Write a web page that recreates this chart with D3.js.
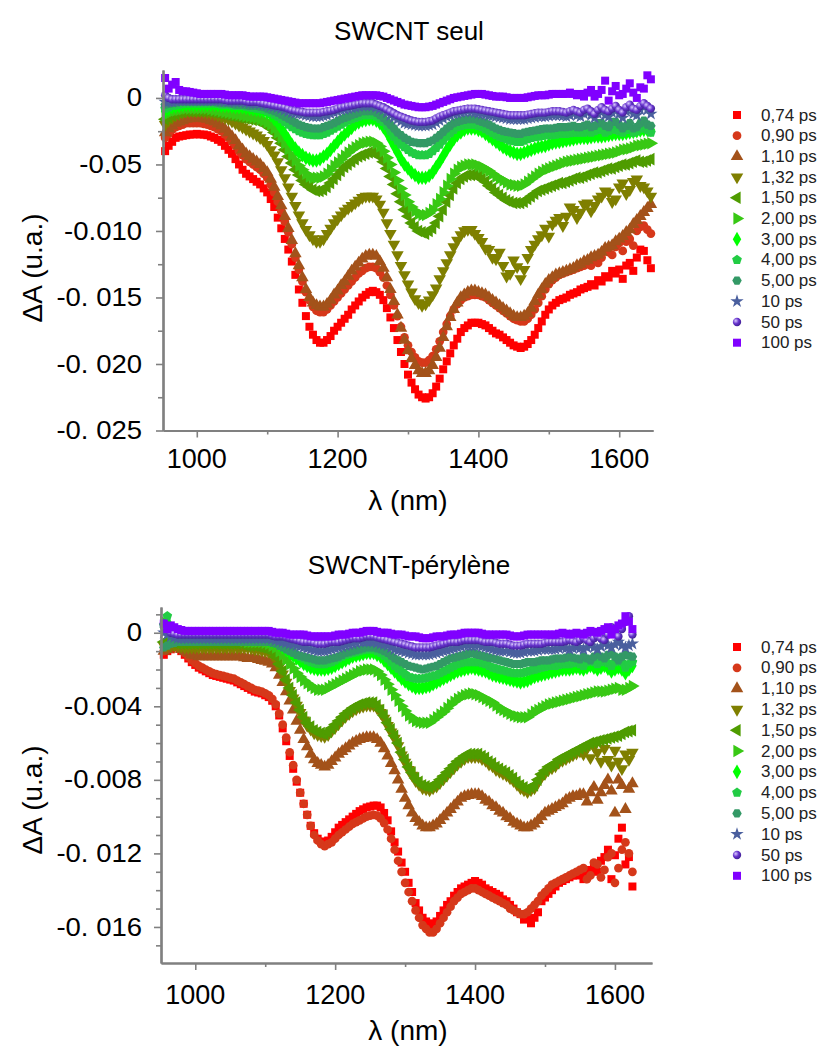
<!DOCTYPE html>
<html><head><meta charset="utf-8">
<script src="https://cdn.jsdelivr.net/npm/d3@7"></script>
<style>body{margin:0;background:#fff}svg{display:block}</style>
</head><body>
<svg id="c" width="819" height="1048"></svg>
<script>
// ---------------- DATA (ΔA values in units of 1e-3) ----------------
const seriesLabels = ["0,74 ps","0,90 ps","1,10 ps","1,32 ps","1,50 ps","2,00 ps","3,00 ps","4,00 ps","5,00 ps","10 ps","50 ps","100 ps"];

const wavelengthsTop = [955,960,965,970,975,980,985,990,995,1000,1005,1010,1015,1020,1025,1030,1035,1040,1045,1050,
1055,1060,1065,1070,1075,1080,1085,1090,1095,1100,1105,1110,1115,1120,1125,1130,1135,1140,1145,1150,
1155,1160,1165,1170,1175,1180,1185,1190,1195,1200,1205,1210,1215,1220,1225,1230,1235,1240,1245,1250,
1255,1260,1265,1270,1275,1280,1285,1290,1295,1300,1305,1310,1315,1320,1325,1330,1335,1340,1345,1350,
1355,1360,1365,1370,1375,1380,1385,1390,1395,1400,1405,1410,1415,1420,1425,1430,1435,1440,1445,1450,
1455,1460,1465,1470,1475,1480,1485,1490,1495,1500,1505,1510,1515,1520,1525,1530,1535,1540,1545,1550,
1555,1560,1565,1570,1575,1580,1585,1590,1595,1600,1605,1610,1615,1620,1625,1630,1635,1640,1645];
const wavelengthsBottom = [955,960,965,970,975,980,985,990,995,1000,1005,1010,1015,1020,1025,1030,1035,1040,1045,1050,
1055,1060,1065,1070,1075,1080,1085,1090,1095,1100,1105,1110,1115,1120,1125,1130,1135,1140,1145,1150,
1155,1160,1165,1170,1175,1180,1185,1190,1195,1200,1205,1210,1215,1220,1225,1230,1235,1240,1245,1250,
1255,1260,1265,1270,1275,1280,1285,1290,1295,1300,1305,1310,1315,1320,1325,1330,1335,1340,1345,1350,
1355,1360,1365,1370,1375,1380,1385,1390,1395,1400,1405,1410,1415,1420,1425,1430,1435,1440,1445,1450,
1455,1460,1465,1470,1475,1480,1485,1490,1495,1500,1505,1510,1515,1520,1525,1530,1535,1540,1545,1550,
1555,1560,1565,1570,1575,1580,1585,1590,1595,1600,1605,1610,1615,1620,1625];

// SWCNT seul
const top074 = [-4.0,-3.6,-3.3,-3.0,-2.9,-2.85,-2.8,-2.75,-2.75,-2.7,-2.75,-2.75,-2.8,-2.9,-3.0,-3.15,-3.3,-3.6,-3.9,-4.2,
-4.6,-5.0,-5.4,-5.7,-5.9,-6.1,-6.3,-6.5,-6.8,-7.1,-7.6,-8.2,-9.0,-9.8,-10.6,-11.4,-12.3,-13.3,-14.4,-15.4,
-16.4,-17.2,-17.8,-18.2,-18.4,-18.4,-18.2,-17.9,-17.5,-17.2,-16.9,-16.6,-16.3,-15.9,-15.6,-15.3,-15.0,-14.8,-14.6,-14.5,
-14.6,-14.8,-15.2,-15.8,-16.5,-17.3,-18.2,-19.1,-20.0,-20.8,-21.4,-21.9,-22.3,-22.5,-22.6,-22.5,-22.2,-21.7,-21.1,-20.4,
-19.8,-19.2,-18.6,-18.1,-17.6,-17.3,-17.1,-16.9,-16.9,-16.9,-17.0,-17.1,-17.3,-17.5,-17.7,-17.8,-18.0,-18.2,-18.4,-18.6,
-18.7,-18.8,-18.7,-18.5,-18.2,-17.8,-17.3,-16.8,-16.3,-15.9,-15.6,-15.4,-15.2,-15.1,-15.0,-14.8,-14.7,-14.6,-14.4,-14.3,
-14.2,-14.0,-14.1,-13.7,-13.8,-13.4,-13.5,-13.0,-13.2,-12.9,-13.6,-12.6,-12.4,-13.0,-12.0,-11.4,-11.5,-12.2,-12.8];
const top090 = [-3.0,-2.7,-2.4,-2.2,-2.1,-2.0,-1.9,-1.9,-1.9,-1.9,-1.9,-1.95,-2.0,-2.1,-2.2,-2.35,-2.5,-2.75,-3.0,-3.3,
-3.6,-4.0,-4.3,-4.6,-4.8,-5.0,-5.2,-5.4,-5.7,-6.0,-6.5,-7.1,-7.8,-8.5,-9.3,-10.1,-11.0,-12.0,-12.9,-13.8,
-14.6,-15.2,-15.7,-16.0,-16.1,-16.1,-15.9,-15.6,-15.3,-15.0,-14.7,-14.4,-14.1,-13.8,-13.5,-13.2,-13.0,-12.8,-12.7,-12.7,
-12.8,-13.1,-13.5,-14.1,-14.8,-15.6,-16.4,-17.2,-18.0,-18.6,-19.1,-19.5,-19.8,-19.9,-19.9,-19.7,-19.4,-18.9,-18.3,-17.6,
-17.0,-16.4,-15.9,-15.5,-15.2,-15.0,-14.9,-14.8,-14.8,-14.8,-14.9,-15.0,-15.2,-15.4,-15.6,-15.8,-16.0,-16.2,-16.4,-16.6,
-16.7,-16.8,-16.8,-16.6,-16.3,-15.9,-15.4,-14.9,-14.4,-14.0,-13.7,-13.5,-13.3,-13.2,-13.1,-13.0,-12.9,-12.8,-12.7,-12.6,
-12.5,-12.6,-12.3,-12.4,-12.0,-11.5,-11.6,-11.8,-11.2,-10.9,-11.5,-10.8,-10.6,-11.1,-10.0,-9.7,-9.6,-9.9,-10.2];
const top110 = [-2.6,-2.3,-2.1,-1.9,-1.8,-1.7,-1.6,-1.55,-1.5,-1.5,-1.5,-1.55,-1.6,-1.7,-1.8,-1.95,-2.1,-2.35,-2.6,-2.9,
-3.2,-3.6,-3.9,-4.2,-4.4,-4.6,-4.8,-5.0,-5.3,-5.6,-6.1,-6.7,-7.4,-8.1,-8.9,-9.8,-10.7,-11.7,-12.6,-13.5,
-14.4,-15.0,-15.4,-15.6,-15.7,-15.7,-15.5,-15.2,-14.8,-14.5,-14.1,-13.8,-13.4,-13.0,-12.7,-12.4,-12.1,-11.9,-11.8,-11.8,
-11.9,-12.3,-12.8,-13.5,-14.4,-15.3,-16.3,-17.3,-18.2,-19.0,-19.6,-20.1,-20.5,-20.7,-20.7,-20.5,-20.1,-19.5,-18.8,-18.0,
-17.2,-16.5,-15.9,-15.4,-15.0,-14.8,-14.6,-14.5,-14.5,-14.6,-14.7,-14.8,-15.0,-15.2,-15.4,-15.6,-15.8,-16.0,-16.2,-16.4,
-16.5,-16.5,-16.4,-16.2,-15.8,-15.3,-14.8,-14.4,-14.0,-13.7,-13.5,-13.3,-13.2,-13.1,-13.0,-12.9,-12.8,-12.6,-12.5,-12.3,
-12.2,-12.0,-11.9,-11.8,-11.6,-11.3,-11.2,-11.1,-10.8,-10.6,-10.4,-10.1,-9.9,-9.5,-9.2,-8.9,-8.6,-8.3,-8.0];
const top132 = [-2.0,-1.7,-1.5,-1.3,-1.2,-1.1,-1.0,-1.0,-1.0,-1.0,-1.0,-1.05,-1.1,-1.15,-1.2,-1.3,-1.4,-1.5,-1.6,-1.75,
-1.9,-2.05,-2.2,-2.35,-2.5,-2.65,-2.8,-3.0,-3.2,-3.5,-3.9,-4.3,-4.8,-5.4,-6.0,-6.7,-7.4,-8.1,-8.8,-9.4,
-9.9,-10.3,-10.6,-10.8,-10.8,-10.6,-10.2,-9.8,-9.4,-9.1,-8.8,-8.5,-8.3,-8.1,-7.9,-7.7,-7.5,-7.4,-7.4,-7.4,
-7.6,-8.0,-8.6,-9.4,-10.2,-11.0,-11.8,-12.6,-13.3,-14.0,-14.6,-15.1,-15.4,-15.6,-15.5,-15.2,-14.8,-14.3,-13.6,-13.0,
-12.4,-11.8,-11.2,-10.7,-10.3,-10.0,-9.9,-9.9,-10.2,-10.5,-10.8,-11.3,-11.4,-12.0,-12.1,-11.6,-12.6,-13.4,-13.2,-12.2,
-12.7,-13.6,-12.9,-12.0,-11.4,-11.0,-10.6,-10.3,-9.8,-10.4,-9.5,-9.2,-9.0,-9.6,-8.9,-8.2,-8.4,-9.0,-8.6,-8.0,
-7.9,-8.5,-8.1,-7.6,-7.4,-7.0,-7.1,-7.8,-7.6,-6.7,-6.4,-7.2,-6.9,-6.3,-6.1,-6.6,-6.7,-7.0,-7.4];
const top150 = [-1.6,-1.45,-1.3,-1.2,-1.1,-1.05,-1.0,-1.0,-1.0,-1.0,-1.0,-1.0,-1.0,-1.05,-1.1,-1.15,-1.2,-1.25,-1.3,-1.35,
-1.4,-1.45,-1.5,-1.55,-1.6,-1.65,-1.7,-1.8,-1.9,-2.1,-2.3,-2.6,-3.0,-3.4,-3.9,-4.4,-4.9,-5.4,-5.8,-6.2,
-6.5,-6.7,-6.9,-7.0,-7.0,-6.9,-6.7,-6.4,-6.1,-5.8,-5.5,-5.2,-5.0,-4.8,-4.6,-4.4,-4.3,-4.2,-4.1,-4.1,
-4.2,-4.4,-4.8,-5.3,-5.9,-6.5,-7.2,-7.8,-8.4,-8.9,-9.4,-9.7,-10.0,-10.1,-10.2,-10.0,-9.8,-9.4,-8.9,-8.4,
-7.8,-7.3,-6.8,-6.4,-6.1,-5.9,-5.8,-5.8,-5.8,-5.9,-6.1,-6.3,-6.6,-6.8,-7.1,-7.3,-7.5,-7.7,-7.8,-7.9,
-7.9,-7.9,-7.8,-7.6,-7.4,-7.2,-7.0,-6.9,-6.8,-6.7,-6.6,-6.5,-6.4,-6.4,-6.3,-6.2,-6.1,-6.0,-6.0,-5.9,
-5.8,-5.7,-5.6,-5.6,-5.5,-5.4,-5.3,-5.3,-5.2,-5.1,-5.0,-5.0,-4.9,-4.8,-4.7,-4.8,-4.8,-4.7,-4.6];
const top200 = [-1.3,-1.15,-1.0,-0.95,-0.9,-0.85,-0.8,-0.8,-0.8,-0.8,-0.8,-0.8,-0.8,-0.85,-0.9,-0.95,-1.0,-1.05,-1.1,-1.15,
-1.2,-1.25,-1.3,-1.35,-1.4,-1.45,-1.5,-1.6,-1.7,-1.85,-2.0,-2.3,-2.6,-3.0,-3.4,-3.85,-4.3,-4.7,-5.1,-5.4,
-5.7,-5.9,-6.0,-6.0,-6.0,-5.9,-5.7,-5.4,-5.1,-4.85,-4.6,-4.35,-4.1,-3.9,-3.7,-3.55,-3.4,-3.35,-3.3,-3.3,
-3.4,-3.65,-4.0,-4.5,-5.0,-5.6,-6.2,-6.8,-7.3,-7.8,-8.2,-8.5,-8.7,-8.8,-8.8,-8.65,-8.4,-8.0,-7.6,-7.1,
-6.6,-6.1,-5.7,-5.4,-5.2,-5.1,-5.0,-5.0,-5.0,-5.1,-5.2,-5.35,-5.5,-5.7,-5.9,-6.05,-6.2,-6.35,-6.5,-6.55,
-6.6,-6.6,-6.5,-6.3,-6.1,-5.9,-5.7,-5.55,-5.4,-5.3,-5.2,-5.1,-5.0,-4.9,-4.8,-4.75,-4.7,-4.65,-4.6,-4.55,
-4.5,-4.45,-4.4,-4.35,-4.3,-4.25,-4.2,-4.15,-4.1,-4.0,-3.9,-3.85,-3.8,-3.7,-3.6,-3.55,-3.5,-3.45,-3.4];
const top300 = [-1.0,-0.85,-0.7,-0.65,-0.6,-0.55,-0.5,-0.5,-0.5,-0.5,-0.5,-0.5,-0.5,-0.5,-0.5,-0.55,-0.6,-0.6,-0.6,-0.65,
-0.7,-0.7,-0.7,-0.75,-0.8,-0.85,-0.9,-0.95,-1.0,-1.1,-1.3,-1.6,-1.9,-2.3,-2.7,-3.1,-3.5,-3.8,-4.1,-4.3,
-4.5,-4.6,-4.7,-4.7,-4.6,-4.4,-4.2,-3.9,-3.6,-3.3,-3.0,-2.75,-2.5,-2.25,-2.0,-1.85,-1.7,-1.65,-1.6,-1.6,
-1.7,-1.9,-2.2,-2.6,-3.1,-3.6,-4.1,-4.6,-5.0,-5.3,-5.6,-5.8,-6.0,-6.0,-6.0,-5.85,-5.6,-5.2,-4.8,-4.35,
-3.9,-3.5,-3.1,-2.8,-2.6,-2.4,-2.3,-2.3,-2.3,-2.4,-2.5,-2.7,-2.9,-3.1,-3.3,-3.5,-3.7,-3.85,-4.0,-4.1,
-4.2,-4.2,-4.1,-4.0,-3.9,-3.8,-3.7,-3.65,-3.6,-3.5,-3.4,-3.35,-3.3,-3.25,-3.2,-3.15,-3.1,-3.05,-3.0,-3.0,
-3.0,-2.95,-2.9,-2.9,-2.9,-2.85,-2.8,-2.75,-2.7,-2.7,-2.7,-2.65,-2.6,-2.55,-2.5,-2.45,-2.4,-2.4,-2.4];
const top400 = [-0.8,-0.7,-0.6,-0.55,-0.5,-0.45,-0.4,-0.4,-0.4,-0.4,-0.4,-0.4,-0.4,-0.4,-0.4,-0.45,-0.5,-0.5,-0.5,-0.55,
-0.6,-0.6,-0.6,-0.65,-0.7,-0.75,-0.8,-0.85,-0.9,-1.0,-1.1,-1.25,-1.4,-1.6,-1.8,-2.0,-2.2,-2.35,-2.5,-2.6,
-2.7,-2.75,-2.8,-2.8,-2.8,-2.7,-2.6,-2.45,-2.3,-2.15,-2.0,-1.85,-1.7,-1.6,-1.5,-1.4,-1.3,-1.3,-1.3,-1.3,
-1.4,-1.6,-1.8,-2.1,-2.5,-2.9,-3.2,-3.5,-3.7,-3.9,-4.1,-4.2,-4.3,-4.3,-4.3,-4.2,-4.0,-3.75,-3.5,-3.2,
-2.9,-2.65,-2.4,-2.2,-2.1,-2.05,-2.0,-2.0,-2.0,-2.1,-2.2,-2.35,-2.5,-2.65,-2.8,-2.9,-3.0,-3.1,-3.2,-3.25,
-3.3,-3.3,-3.2,-3.1,-3.0,-2.95,-2.9,-2.85,-2.8,-2.8,-2.8,-2.75,-2.7,-2.7,-2.7,-2.65,-2.6,-2.6,-2.6,-2.6,
-2.5,-2.6,-2.5,-2.4,-2.4,-2.6,-2.5,-2.3,-2.4,-2.5,-2.6,-2.4,-2.3,-2.6,-2.5,-2.3,-2.2,-2.4,-2.6];
const top500 = [-0.5,-0.45,-0.4,-0.35,-0.3,-0.3,-0.3,-0.3,-0.3,-0.3,-0.3,-0.3,-0.3,-0.3,-0.3,-0.35,-0.4,-0.4,-0.4,-0.45,
-0.5,-0.5,-0.5,-0.55,-0.6,-0.6,-0.6,-0.65,-0.7,-0.8,-0.9,-1.0,-1.1,-1.25,-1.4,-1.55,-1.7,-1.85,-2.0,-2.1,
-2.2,-2.25,-2.3,-2.3,-2.3,-2.2,-2.1,-2.0,-1.9,-1.75,-1.6,-1.5,-1.4,-1.3,-1.2,-1.1,-1.0,-1.0,-1.0,-1.0,
-1.1,-1.3,-1.5,-1.75,-2.0,-2.3,-2.6,-2.8,-3.0,-3.15,-3.3,-3.35,-3.4,-3.4,-3.4,-3.3,-3.2,-3.0,-2.8,-2.55,
-2.3,-2.1,-1.9,-1.8,-1.7,-1.65,-1.6,-1.6,-1.6,-1.7,-1.8,-1.9,-2.0,-2.15,-2.3,-2.4,-2.5,-2.55,-2.6,-2.65,
-2.7,-2.7,-2.6,-2.55,-2.5,-2.45,-2.4,-2.35,-2.3,-2.3,-2.3,-2.25,-2.2,-2.2,-2.2,-2.15,-2.1,-2.2,-2.2,-2.1,
-2.0,-2.2,-2.1,-1.9,-1.9,-2.1,-2.2,-1.8,-1.8,-2.0,-2.3,-2.1,-1.9,-2.3,-2.2,-1.9,-1.7,-2.0,-2.1];
const top10ps = [-0.3,-0.3,-0.3,-0.25,-0.2,-0.2,-0.2,-0.2,-0.2,-0.2,-0.2,-0.2,-0.2,-0.2,-0.2,-0.2,-0.2,-0.25,-0.3,-0.3,
-0.3,-0.3,-0.3,-0.35,-0.4,-0.4,-0.4,-0.45,-0.5,-0.55,-0.6,-0.65,-0.7,-0.8,-0.9,-1.0,-1.1,-1.15,-1.2,-1.25,
-1.3,-1.35,-1.4,-1.4,-1.4,-1.35,-1.3,-1.2,-1.1,-1.0,-0.9,-0.85,-0.8,-0.75,-0.7,-0.65,-0.6,-0.6,-0.6,-0.6,
-0.7,-0.8,-0.9,-1.1,-1.3,-1.45,-1.6,-1.75,-1.9,-1.95,-2.0,-2.05,-2.1,-2.1,-2.1,-2.05,-2.0,-1.85,-1.7,-1.55,
-1.4,-1.3,-1.2,-1.15,-1.1,-1.05,-1.0,-1.05,-1.1,-1.15,-1.2,-1.25,-1.3,-1.35,-1.4,-1.45,-1.5,-1.55,-1.6,-1.6,
-1.6,-1.6,-1.6,-1.55,-1.5,-1.45,-1.4,-1.4,-1.4,-1.35,-1.3,-1.3,-1.3,-1.35,-1.4,-1.3,-1.2,-1.3,-1.4,-1.2,
-1.1,-1.3,-1.5,-1.2,-1.0,-1.3,-1.4,-1.1,-0.9,-1.2,-1.5,-1.0,-0.8,-1.2,-1.3,-0.9,-0.6,-0.9,-1.2];
const top50ps = [0.2,0.0,-0.1,-0.1,-0.1,-0.1,-0.1,-0.1,-0.1,-0.1,-0.1,-0.1,-0.1,-0.1,-0.1,-0.1,-0.1,-0.15,-0.2,-0.2,
-0.2,-0.2,-0.2,-0.25,-0.3,-0.3,-0.3,-0.35,-0.4,-0.45,-0.5,-0.55,-0.6,-0.65,-0.7,-0.8,-0.9,-0.95,-1.0,-1.05,
-1.1,-1.1,-1.1,-1.1,-1.1,-1.05,-1.0,-0.95,-0.9,-0.8,-0.7,-0.65,-0.6,-0.55,-0.5,-0.45,-0.4,-0.4,-0.4,-0.4,
-0.5,-0.6,-0.7,-0.85,-1.0,-1.15,-1.3,-1.4,-1.5,-1.6,-1.7,-1.75,-1.8,-1.8,-1.8,-1.75,-1.7,-1.55,-1.4,-1.3,
-1.2,-1.1,-1.0,-0.95,-0.9,-0.85,-0.8,-0.8,-0.8,-0.85,-0.9,-0.95,-1.0,-1.05,-1.1,-1.15,-1.2,-1.25,-1.3,-1.3,
-1.3,-1.3,-1.3,-1.25,-1.2,-1.15,-1.1,-1.1,-1.1,-1.05,-1.0,-1.0,-1.0,-1.05,-1.1,-1.0,-0.9,-1.0,-1.1,-0.9,
-0.8,-1.0,-1.2,-0.9,-0.7,-0.9,-1.0,-0.8,-0.6,-0.9,-1.1,-0.7,-0.5,-0.8,-0.9,-0.6,-0.4,-0.6,-0.8];
const top100ps = [1.5,0.7,1.0,1.2,0.6,0.5,0.5,0.45,0.4,0.35,0.3,0.3,0.3,0.3,0.3,0.3,0.3,0.25,0.2,0.2,
0.2,0.2,0.2,0.15,0.1,0.1,0.1,0.1,0.1,0.05,0.0,-0.05,-0.1,-0.15,-0.2,-0.25,-0.3,-0.35,-0.4,-0.4,
-0.4,-0.4,-0.4,-0.4,-0.4,-0.35,-0.3,-0.25,-0.2,-0.15,-0.1,-0.05,0.0,0.05,0.1,0.15,0.2,0.2,0.2,0.2,
0.2,0.15,0.1,0.0,-0.1,-0.2,-0.3,-0.4,-0.5,-0.55,-0.6,-0.65,-0.7,-0.7,-0.7,-0.65,-0.6,-0.5,-0.4,-0.3,
-0.2,-0.1,0.0,0.05,0.1,0.15,0.2,0.25,0.3,0.3,0.3,0.25,0.2,0.15,0.1,0.1,0.1,0.05,0.0,0.0,
0.0,0.0,0.0,0.05,0.1,0.15,0.2,0.2,0.2,0.25,0.3,0.3,0.3,0.3,0.3,0.4,0.3,0.2,0.3,0.1,
0.4,0.6,0.1,0.3,0.6,1.3,-0.2,0.5,0.9,0.2,0.3,0.7,1.1,0.4,0.0,0.8,0.7,1.7,1.4];

// SWCNT-pérylène
const bot074 = [-1.2,-1.0,-0.9,-0.8,-0.8,-1.0,-1.2,-1.4,-1.6,-1.75,-1.9,-2.0,-2.1,-2.2,-2.3,-2.35,-2.4,-2.45,-2.5,-2.55,
-2.6,-2.7,-2.8,-2.9,-3.0,-3.1,-3.2,-3.25,-3.3,-3.4,-3.5,-3.7,-4.0,-4.5,-5.2,-5.9,-6.7,-7.4,-8.1,-8.7,
-9.3,-9.9,-10.5,-10.9,-11.2,-11.35,-11.4,-11.3,-11.1,-10.85,-10.6,-10.45,-10.3,-10.15,-10.0,-9.85,-9.7,-9.6,-9.5,-9.45,
-9.4,-9.4,-9.5,-9.8,-10.2,-10.8,-11.4,-11.9,-12.5,-13.0,-13.6,-14.1,-14.7,-15.1,-15.5,-15.7,-15.9,-15.8,-15.7,-15.4,
-15.1,-14.8,-14.6,-14.3,-14.1,-13.9,-13.8,-13.7,-13.6,-13.5,-13.6,-13.7,-13.9,-14.0,-14.1,-14.2,-14.3,-14.5,-14.6,-14.8,
-15.0,-15.2,-15.3,-15.6,-15.5,-15.8,-15.5,-15.2,-14.6,-14.4,-14.2,-14.0,-13.8,-13.6,-13.5,-13.4,-13.3,-13.2,-13.2,-13.1,
-13.4,-13.0,-12.9,-12.6,-13.0,-12.4,-12.2,-11.8,-13.4,-12.1,-11.2,-10.6,-12.6,-12.2,-13.8];
const bot090 = [-1.0,-0.9,-0.8,-0.7,-0.7,-0.9,-1.1,-1.3,-1.5,-1.65,-1.8,-1.9,-2.0,-2.1,-2.2,-2.25,-2.3,-2.35,-2.4,-2.45,
-2.5,-2.6,-2.7,-2.8,-2.9,-3.0,-3.1,-3.15,-3.2,-3.3,-3.4,-3.6,-3.9,-4.4,-5.0,-5.7,-6.5,-7.2,-8.0,-8.7,
-9.3,-9.9,-10.5,-11.0,-11.3,-11.5,-11.6,-11.5,-11.4,-11.2,-11.0,-10.85,-10.7,-10.55,-10.4,-10.3,-10.2,-10.1,-10.0,-9.95,
-9.9,-9.95,-10.1,-10.35,-10.7,-11.2,-11.8,-12.4,-13.0,-13.6,-14.1,-14.6,-15.1,-15.5,-15.9,-16.1,-16.3,-16.3,-16.1,-15.8,
-15.5,-15.2,-14.9,-14.6,-14.4,-14.2,-14.1,-14.0,-13.9,-13.9,-14.0,-14.1,-14.2,-14.3,-14.4,-14.5,-14.6,-14.7,-14.8,-15.0,
-15.1,-15.2,-15.3,-15.3,-15.2,-15.0,-14.8,-14.6,-14.3,-14.1,-13.9,-13.7,-13.6,-13.5,-13.4,-13.3,-13.2,-13.1,-13.0,-12.9,
-12.8,-13.4,-13.2,-12.5,-12.6,-13.3,-12.9,-12.2,-12.0,-13.6,-12.8,-11.8,-11.4,-12.0,-13.0];
const bot110 = [-1.0,-0.9,-0.8,-0.8,-0.8,-0.9,-1.0,-1.1,-1.2,-1.25,-1.3,-1.3,-1.3,-1.3,-1.3,-1.3,-1.3,-1.3,-1.3,-1.3,
-1.3,-1.3,-1.3,-1.35,-1.4,-1.4,-1.4,-1.45,-1.5,-1.55,-1.6,-1.7,-1.9,-2.3,-2.7,-3.2,-3.7,-4.2,-4.8,-5.3,
-5.8,-6.2,-6.6,-6.9,-7.1,-7.2,-7.3,-7.2,-7.0,-6.8,-6.6,-6.45,-6.3,-6.15,-6.0,-5.9,-5.8,-5.75,-5.7,-5.7,
-5.7,-5.8,-6.0,-6.3,-6.7,-7.1,-7.5,-8.0,-8.5,-9.0,-9.4,-9.8,-10.1,-10.3,-10.5,-10.6,-10.6,-10.5,-10.4,-10.2,
-10.0,-9.8,-9.6,-9.4,-9.2,-9.0,-8.9,-8.85,-8.8,-8.8,-8.8,-8.9,-9.1,-9.2,-9.4,-9.5,-9.7,-9.8,-10.0,-10.1,
-10.3,-10.4,-10.5,-10.6,-10.6,-10.5,-10.4,-10.2,-10.0,-9.8,-9.7,-9.6,-9.5,-9.4,-9.3,-9.1,-9.0,-8.9,-8.9,-8.8,
-8.8,-9.2,-8.7,-8.4,-9.1,-8.7,-8.3,-8.0,-8.6,-9.8,-8.0,-8.3,-9.6,-8.5,-8.2];
const bot132 = [-0.7,-0.7,-0.7,-0.7,-0.7,-0.75,-0.8,-0.8,-0.8,-0.8,-0.8,-0.8,-0.8,-0.8,-0.8,-0.8,-0.8,-0.8,-0.8,-0.8,
-0.8,-0.8,-0.8,-0.8,-0.8,-0.85,-0.9,-0.9,-0.95,-1.0,-1.05,-1.2,-1.45,-1.85,-2.25,-2.7,-3.15,-3.55,-3.95,-4.35,
-4.75,-5.05,-5.25,-5.45,-5.55,-5.6,-5.65,-5.55,-5.35,-5.15,-4.95,-4.75,-4.55,-4.4,-4.25,-4.15,-4.05,-4.0,-3.95,-3.95,
-3.95,-4.1,-4.35,-4.65,-5.05,-5.4,-5.75,-6.15,-6.65,-7.05,-7.45,-7.75,-8.05,-8.25,-8.45,-8.5,-8.55,-8.45,-8.35,-8.15,
-7.95,-7.75,-7.55,-7.35,-7.15,-7.0,-6.85,-6.75,-6.75,-6.75,-6.75,-6.85,-6.95,-7.15,-7.25,-7.45,-7.55,-7.65,-7.75,-7.9,
-8.05,-8.25,-8.45,-8.55,-8.65,-8.55,-8.45,-8.15,-7.85,-7.65,-7.45,-7.35,-7.25,-7.05,-6.95,-6.85,-6.75,-6.65,-6.55,-6.45,
-6.6,-6.3,-6.8,-6.2,-6.5,-7.0,-6.3,-6.9,-7.2,-6.4,-7.0,-7.4,-6.6,-6.9,-6.5];
const bot150 = [-0.5,-0.5,-0.5,-0.55,-0.6,-0.6,-0.6,-0.6,-0.6,-0.6,-0.6,-0.6,-0.6,-0.6,-0.6,-0.6,-0.6,-0.6,-0.6,-0.6,
-0.6,-0.6,-0.6,-0.65,-0.7,-0.7,-0.7,-0.75,-0.8,-0.85,-0.9,-1.05,-1.3,-1.7,-2.1,-2.55,-3.0,-3.4,-3.8,-4.2,
-4.6,-4.9,-5.1,-5.3,-5.4,-5.45,-5.5,-5.4,-5.2,-5.0,-4.8,-4.6,-4.4,-4.25,-4.1,-4.0,-3.9,-3.85,-3.8,-3.8,
-3.8,-3.95,-4.2,-4.5,-4.9,-5.25,-5.6,-6.0,-6.5,-6.9,-7.3,-7.6,-7.9,-8.1,-8.3,-8.35,-8.4,-8.3,-8.2,-8.0,
-7.8,-7.6,-7.4,-7.2,-7.0,-6.85,-6.7,-6.6,-6.6,-6.6,-6.6,-6.7,-6.8,-7.0,-7.1,-7.3,-7.4,-7.5,-7.6,-7.75,
-7.9,-8.1,-8.3,-8.4,-8.5,-8.4,-8.3,-8.0,-7.7,-7.5,-7.3,-7.2,-7.1,-6.9,-6.8,-6.7,-6.6,-6.5,-6.4,-6.3,
-6.2,-6.1,-6.0,-5.95,-5.9,-5.85,-5.8,-5.75,-5.7,-5.65,-5.6,-5.5,-5.4,-5.35,-5.3];
const bot200 = [0.6,0.2,0.0,-0.2,-0.3,-0.35,-0.4,-0.4,-0.4,-0.4,-0.4,-0.4,-0.4,-0.4,-0.4,-0.4,-0.4,-0.4,-0.4,-0.4,
-0.4,-0.4,-0.4,-0.45,-0.5,-0.5,-0.5,-0.5,-0.5,-0.55,-0.6,-0.7,-0.8,-1.0,-1.2,-1.45,-1.7,-1.95,-2.2,-2.4,
-2.6,-2.75,-2.9,-3.0,-3.1,-3.1,-3.1,-3.0,-2.9,-2.8,-2.7,-2.6,-2.5,-2.4,-2.3,-2.2,-2.1,-2.05,-2.0,-2.0,
-2.0,-2.1,-2.3,-2.55,-2.8,-3.1,-3.4,-3.7,-4.0,-4.25,-4.5,-4.65,-4.8,-4.85,-4.9,-4.9,-4.9,-4.75,-4.6,-4.45,
-4.3,-4.1,-3.9,-3.75,-3.6,-3.5,-3.4,-3.35,-3.3,-3.35,-3.4,-3.5,-3.6,-3.7,-3.8,-3.95,-4.1,-4.2,-4.3,-4.4,
-4.5,-4.55,-4.6,-4.6,-4.6,-4.45,-4.3,-4.2,-4.1,-4.0,-3.9,-3.85,-3.8,-3.75,-3.7,-3.65,-3.6,-3.55,-3.5,-3.45,
-3.4,-3.35,-3.3,-3.25,-3.2,-3.2,-3.2,-3.15,-3.1,-3.05,-3.0,-3.1,-3.1,-3.0,-2.9];
const bot300 = [0.3,0.6,-0.1,-0.15,-0.2,-0.25,-0.3,-0.3,-0.3,-0.3,-0.3,-0.3,-0.3,-0.3,-0.3,-0.3,-0.3,-0.3,-0.3,-0.3,
-0.3,-0.3,-0.3,-0.3,-0.3,-0.3,-0.3,-0.3,-0.3,-0.35,-0.4,-0.45,-0.5,-0.65,-0.8,-0.95,-1.1,-1.25,-1.4,-1.55,
-1.7,-1.8,-1.9,-1.95,-2.0,-2.0,-2.0,-1.95,-1.9,-1.8,-1.7,-1.6,-1.5,-1.4,-1.3,-1.25,-1.2,-1.15,-1.1,-1.1,
-1.1,-1.2,-1.3,-1.5,-1.7,-1.9,-2.1,-2.3,-2.5,-2.65,-2.8,-2.9,-3.0,-3.0,-3.0,-2.95,-2.9,-2.8,-2.7,-2.6,
-2.5,-2.4,-2.3,-2.2,-2.1,-2.05,-2.0,-1.95,-1.9,-1.95,-2.0,-2.05,-2.1,-2.2,-2.3,-2.35,-2.4,-2.45,-2.5,-2.55,
-2.6,-2.65,-2.7,-2.65,-2.6,-2.5,-2.4,-2.35,-2.3,-2.25,-2.2,-2.15,-2.1,-2.05,-2.0,-2.0,-2.0,-1.95,-1.9,-1.95,
-2.0,-1.9,-1.8,-1.9,-2.0,-1.9,-1.8,-1.95,-2.1,-2.0,-1.9,-2.0,-2.2,-2.0,-1.8];
const bot400 = [0.4,0.9,-0.1,-0.15,-0.2,-0.2,-0.2,-0.2,-0.2,-0.2,-0.2,-0.2,-0.2,-0.2,-0.2,-0.2,-0.2,-0.2,-0.2,-0.2,
-0.2,-0.2,-0.2,-0.25,-0.3,-0.3,-0.3,-0.3,-0.3,-0.3,-0.3,-0.35,-0.4,-0.5,-0.6,-0.75,-0.9,-1.05,-1.2,-1.3,
-1.4,-1.5,-1.6,-1.65,-1.7,-1.7,-1.7,-1.65,-1.6,-1.5,-1.4,-1.3,-1.2,-1.15,-1.1,-1.05,-1.0,-0.95,-0.9,-0.9,
-0.9,-1.0,-1.1,-1.25,-1.4,-1.6,-1.8,-1.95,-2.1,-2.25,-2.4,-2.45,-2.5,-2.5,-2.5,-2.45,-2.4,-2.35,-2.3,-2.2,
-2.1,-2.0,-1.9,-1.8,-1.7,-1.65,-1.6,-1.6,-1.6,-1.6,-1.6,-1.65,-1.7,-1.8,-1.9,-1.95,-2.0,-2.05,-2.1,-2.15,
-2.2,-2.2,-2.2,-2.15,-2.1,-2.05,-2.0,-1.95,-1.9,-1.85,-1.8,-1.8,-1.8,-1.75,-1.7,-1.7,-1.7,-1.65,-1.6,-1.7,
-1.8,-1.6,-1.5,-1.6,-1.7,-1.6,-1.5,-1.65,-1.8,-1.6,-1.4,-1.6,-1.9,-1.7,-1.6];
const bot500 = [-0.8,-0.7,-0.6,-0.55,-0.5,-0.5,-0.5,-0.5,-0.5,-0.5,-0.5,-0.5,-0.5,-0.5,-0.5,-0.5,-0.5,-0.5,-0.5,-0.5,
-0.5,-0.5,-0.5,-0.5,-0.5,-0.5,-0.5,-0.5,-0.5,-0.5,-0.5,-0.55,-0.6,-0.7,-0.8,-0.9,-1.0,-1.1,-1.2,-1.25,
-1.3,-1.35,-1.4,-1.45,-1.5,-1.5,-1.5,-1.45,-1.4,-1.35,-1.3,-1.2,-1.1,-1.05,-1.0,-0.95,-0.9,-0.85,-0.8,-0.8,
-0.8,-0.85,-0.9,-1.0,-1.1,-1.25,-1.4,-1.5,-1.6,-1.7,-1.8,-1.85,-1.9,-1.95,-2.0,-1.95,-1.9,-1.85,-1.8,-1.7,
-1.6,-1.5,-1.4,-1.35,-1.3,-1.25,-1.2,-1.15,-1.1,-1.15,-1.2,-1.25,-1.3,-1.35,-1.4,-1.45,-1.5,-1.55,-1.6,-1.65,
-1.7,-1.7,-1.7,-1.65,-1.6,-1.6,-1.6,-1.55,-1.5,-1.5,-1.5,-1.45,-1.4,-1.4,-1.4,-1.35,-1.3,-1.35,-1.4,-1.45,
-1.3,-1.4,-1.5,-1.3,-1.2,-1.3,-1.4,-1.2,-1.1,-1.3,-1.5,-1.3,-1.2,-1.25,-1.3];
const bot10ps = [0.0,-0.1,-0.2,-0.25,-0.3,-0.3,-0.3,-0.3,-0.3,-0.3,-0.3,-0.3,-0.3,-0.3,-0.3,-0.3,-0.3,-0.3,-0.3,-0.3,
-0.3,-0.3,-0.3,-0.3,-0.3,-0.3,-0.3,-0.3,-0.3,-0.3,-0.3,-0.35,-0.4,-0.45,-0.5,-0.55,-0.6,-0.65,-0.7,-0.75,
-0.8,-0.85,-0.9,-0.95,-1.0,-1.0,-1.0,-0.95,-0.9,-0.85,-0.8,-0.75,-0.7,-0.65,-0.6,-0.55,-0.5,-0.5,-0.5,-0.5,
-0.5,-0.55,-0.6,-0.65,-0.7,-0.8,-0.9,-0.95,-1.0,-1.05,-1.1,-1.15,-1.2,-1.2,-1.2,-1.2,-1.2,-1.15,-1.1,-1.05,
-1.0,-0.95,-0.9,-0.85,-0.8,-0.75,-0.7,-0.7,-0.7,-0.7,-0.7,-0.75,-0.8,-0.85,-0.9,-0.95,-1.0,-1.0,-1.0,-1.05,
-1.1,-1.1,-1.1,-1.05,-1.0,-1.0,-1.0,-0.95,-0.9,-0.9,-0.9,-0.9,-0.9,-0.85,-0.8,-0.85,-0.9,-0.85,-0.8,-0.85,
-0.9,-0.8,-0.7,-0.8,-0.9,-0.75,-0.6,-0.7,-0.8,-0.65,-0.5,-0.7,-0.8,-0.7,-0.6];
const bot50ps = [0.5,0.2,0.0,-0.05,-0.1,-0.1,-0.1,-0.1,-0.1,-0.1,-0.1,-0.1,-0.1,-0.1,-0.1,-0.1,-0.1,-0.1,-0.1,-0.1,
-0.1,-0.1,-0.1,-0.1,-0.1,-0.1,-0.1,-0.1,-0.1,-0.1,-0.1,-0.15,-0.2,-0.2,-0.2,-0.25,-0.3,-0.35,-0.4,-0.45,
-0.5,-0.5,-0.5,-0.55,-0.6,-0.6,-0.6,-0.55,-0.5,-0.5,-0.5,-0.45,-0.4,-0.35,-0.3,-0.3,-0.3,-0.25,-0.2,-0.2,
-0.2,-0.25,-0.3,-0.35,-0.4,-0.45,-0.5,-0.55,-0.6,-0.65,-0.7,-0.75,-0.8,-0.8,-0.8,-0.8,-0.8,-0.75,-0.7,-0.65,
-0.6,-0.55,-0.5,-0.5,-0.5,-0.45,-0.4,-0.4,-0.4,-0.4,-0.4,-0.45,-0.5,-0.5,-0.5,-0.55,-0.6,-0.6,-0.6,-0.65,
-0.7,-0.7,-0.7,-0.65,-0.6,-0.6,-0.6,-0.6,-0.6,-0.55,-0.5,-0.5,-0.5,-0.5,-0.5,-0.45,-0.4,-0.45,-0.5,-0.4,
-0.3,-0.4,-0.5,-0.3,-0.2,-0.3,-0.4,-0.1,0.3,0.0,-0.2,0.2,0.6,0.9,-0.1];
const bot100ps = [0.5,0.2,0.4,0.3,0.2,0.15,0.1,0.1,0.1,0.1,0.1,0.1,0.1,0.1,0.1,0.1,0.1,0.1,0.1,0.1,
0.1,0.1,0.1,0.1,0.1,0.1,0.1,0.1,0.1,0.1,0.1,0.05,0.0,0.0,0.0,-0.05,-0.1,-0.1,-0.1,-0.1,
-0.1,-0.15,-0.2,-0.2,-0.2,-0.2,-0.2,-0.2,-0.2,-0.15,-0.1,-0.1,-0.1,-0.05,0.0,0.0,0.0,0.05,0.1,0.1,
0.1,0.05,0.0,0.0,0.0,-0.05,-0.1,-0.1,-0.1,-0.15,-0.2,-0.2,-0.2,-0.25,-0.3,-0.3,-0.3,-0.25,-0.2,-0.2,
-0.2,-0.15,-0.1,-0.1,-0.1,-0.05,0.0,0.0,0.0,0.0,0.0,-0.05,-0.1,-0.1,-0.1,-0.1,-0.1,-0.1,-0.1,-0.15,
-0.2,-0.2,-0.2,-0.15,-0.1,-0.1,-0.1,-0.1,-0.1,-0.1,-0.1,-0.1,-0.1,-0.05,0.0,-0.05,-0.1,-0.05,0.0,-0.05,
-0.1,0.0,0.1,0.05,0.0,0.1,0.2,0.3,-0.1,0.2,0.4,0.5,0.9,0.6,0.2];

// axis ticks
const topYTickValues = [0,-5,-10,-15,-20,-25];
const topYTickLabels = ["0","-0.05","-0.010","-0. 015","-0. 020","-0. 025"];
const topYMinorValues = [-2.5,-7.5,-12.5,-17.5,-22.5];
const botYTickValues = [0,-4,-8,-12,-16];
const botYTickLabels = ["0","-0.004","-0.008","-0. 012","-0. 016"];
const botYMinorValues = [1,-1,-2,-3,-5,-6,-7,-9,-10,-11,-13,-14,-15,-17];
const xTickValues = [1000,1200,1400,1600];
const xTickLabels = ["1000","1200","1400","1600"];
const xMinorValues = [1100,1300,1500];

// ---------------- STYLE ----------------
const seriesColors = ["#ff0000","#d6381a","#a3521a","#7f7f00","#4f9c00","#38c814","#00ff00","#22cc44","#339966","#4a5f9e","#6633cc","#8000ff"];
const FONT = "'Liberation Sans', Arial, Helvetica, sans-serif";

const svg = d3.select("#c");
const defs = svg.append("defs");
const grad = defs.append("radialGradient").attr("id","sph").attr("cx","35%").attr("cy","35%").attr("r","65%");
grad.append("stop").attr("offset","0%").attr("stop-color","#d9c8ff");
grad.append("stop").attr("offset","55%").attr("stop-color","#6633cc");
grad.append("stop").attr("offset","100%").attr("stop-color","#44229a");

const pentagon = {draw(ctx, size){const r=Math.sqrt(size/2.378);for(let k=0;k<5;k++){const a=-Math.PI/2+k*2*Math.PI/5;const x=r*Math.cos(a),y=r*Math.sin(a);k?ctx.lineTo(x,y):ctx.moveTo(x,y);}ctx.closePath();}};
const hexagon = {draw(ctx, size){const r=Math.sqrt(size/2.598);for(let k=0;k<6;k++){const a=k*Math.PI/3;const x=r*Math.cos(a),y=r*Math.sin(a);k?ctx.lineTo(x,y):ctx.moveTo(x,y);}ctx.closePath();}};
// marker: [symbolType, size, rotation]
const markers = [
  [d3.symbolSquare,64,0],[d3.symbolCircle,60,0],[d3.symbolTriangle,68,0],[d3.symbolTriangle,68,180],
  [d3.symbolTriangle,68,-90],[d3.symbolTriangle,68,90],[d3.symbolDiamond,62,0],[pentagon,62,0],
  [hexagon,58,0],[d3.symbolStar,55,0],[d3.symbolCircle,55,0],[d3.symbolSquare,64,0]
];
function fillFor(i){ return i===10 ? "url(#sph)" : seriesColors[i]; }

function label(g, x, y, str, size, anchor, opts={}){
  const sx = opts.sx||1, rot = opts.rot||0;
  const gg = g.append("g").attr("transform",`translate(${x},${y}) rotate(${rot}) scale(${sx},1)`);
  gg.append("text").attr("x",0).attr("y",0).attr("text-anchor",anchor)
    .attr("dominant-baseline", opts.mid ? "central" : "alphabetic")
    .attr("font-family",FONT).attr("font-size",size).attr("fill", opts.fill||"#000").text(str);
}

function drawChart(cfg){
  const g = svg.append("g");
  const x = d3.scaleLinear().domain(cfg.xDomain).range(cfg.xRange);
  const y = d3.scaleLinear().domain(cfg.yDomain).range(cfg.yRange);
  const axisColor = "#808080";
  cfg.series.forEach((vals,i)=>{
    const [type,size,rot] = markers[i];
    const path = d3.symbol().type(type).size(size)();
    const n = Math.min(vals.length, cfg.wl.length);
    const pts = d3.range(n).map(k=>({w:cfg.wl[k], v:vals[k]}));
    g.append("g").selectAll("path").data(pts).join("path")
      .attr("d", path)
      .attr("transform", d=>`translate(${x(d.w)},${y(d.v)}) rotate(${rot})`)
      .attr("fill", fillFor(i));
  });
  const yAxisG = g.append("g").attr("transform",`translate(${cfg.xRange[0]},0)`);
  yAxisG.call(d3.axisLeft(y).tickValues(cfg.yTicks).tickFormat("").tickSize(7).tickSizeOuter(0));
  yAxisG.append("g").call(d3.axisLeft(y).tickValues(cfg.yMinor).tickFormat("").tickSize(5).tickSizeOuter(0));
  const xAxisG = g.append("g").attr("transform",`translate(0,${cfg.yRange[0]})`);
  xAxisG.call(d3.axisBottom(x).tickValues(xTickValues).tickFormat("").tickSize(7).tickSizeOuter(0));
  xAxisG.append("g").call(d3.axisBottom(x).tickValues(xMinorValues).tickFormat("").tickSize(4).tickSizeOuter(0));
  g.selectAll(".domain").attr("stroke",axisColor).attr("stroke-width",2.2);
  g.selectAll(".tick line").attr("stroke",axisColor).attr("stroke-width",1.6);
  cfg.yTicks.forEach((v,k)=> label(g, 142, y(v), cfg.yLabels[k], 25, "end", {mid:true, sx:1.1}));
  xTickValues.forEach((v,k)=> label(g, x(v), cfg.xLabelY, xTickLabels[k], 27, "middle"));
  label(g, 409, cfg.titleY, cfg.title, 26, "middle");
  label(g, 408, cfg.xTitleY, "λ (nm)", 28, "middle");
  label(g, 42, cfg.yTitleCY, "ΔA (u.a.)", 28, "middle", {rot:-90});
  seriesLabels.forEach((s,i)=>{
    const ly = cfg.legendY0 + i*cfg.legendStep;
    const [type,size,rot] = markers[i];
    g.append("path").attr("d", d3.symbol().type(type).size(size)())
      .attr("transform",`translate(737,${ly}) rotate(${rot})`).attr("fill", fillFor(i));
    label(g, 761, ly, s, 17, "start", {mid:true, fill:"#222"});
  });
}

drawChart({
  title:"SWCNT seul", titleY:40, xTitleY:510, yTitleCY:268, xLabelY:468,
  wl: wavelengthsTop,
  series:[top074,top090,top110,top132,top150,top200,top300,top400,top500,top10ps,top50ps,top100ps],
  xDomain:[952,1648], xRange:[163,653],
  yDomain:[-25,2.1], yRange:[430.5,70],
  yTicks: topYTickValues, yLabels: topYTickLabels, yMinor: topYMinorValues,
  legendY0:115, legendStep:20.7
});
drawChart({
  title:"SWCNT-pérylène", titleY:574, xTitleY:1040, yTitleCY:800, xLabelY:1004,
  wl: wavelengthsBottom,
  series:[bot074,bot090,bot110,bot132,bot150,bot200,bot300,bot400,bot500,bot10ps,bot50ps,bot100ps],
  xDomain:[951,1653], xRange:[161,652],
  yDomain:[-17.96,1.4], yRange:[963,607],
  yTicks: botYTickValues, yLabels: botYTickLabels, yMinor: botYMinorValues,
  legendY0:647, legendStep:20.8
});
</script>
</body></html>
